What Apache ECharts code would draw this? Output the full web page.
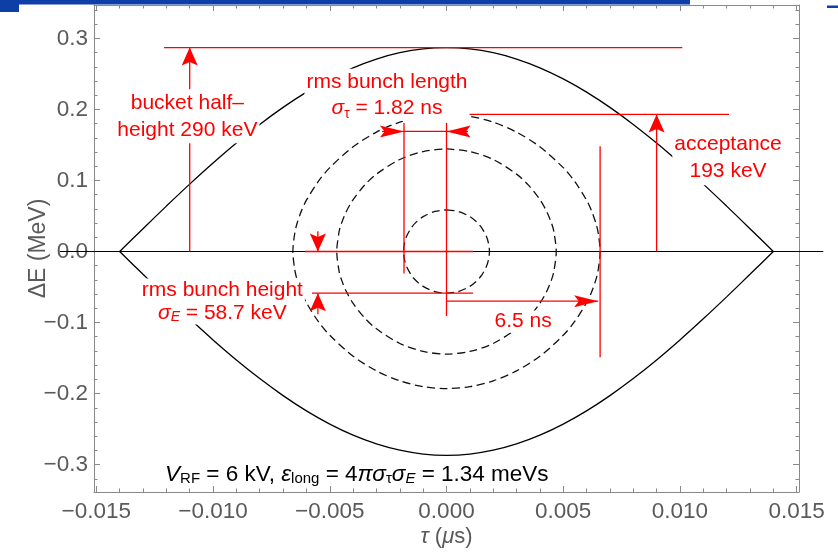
<!DOCTYPE html>
<html><head><meta charset="utf-8">
<script src="https://cdn.jsdelivr.net/npm/echarts@6/dist/echarts.min.js"></script>
<style>html,body{margin:0;padding:0;background:#fff}#c{width:838px;height:553px}</style>
</head><body><div id="c"></div>
<script>
// ---- ticks ----
const xMajorTicks = [-0.015, -0.01, -0.005, 0, 0.005, 0.01, 0.015];
const xMinorTicks = [-0.014,-0.013,-0.012,-0.011,-0.009,-0.008,-0.007,-0.006,-0.004,-0.003,-0.002,-0.001,
                     0.001,0.002,0.003,0.004,0.006,0.007,0.008,0.009,0.011,0.012,0.013,0.014];
const yMajorTicks = [-0.3, -0.2, -0.1, 0, 0.1, 0.2, 0.3];
const yMinorTicks = [-0.32,-0.28,-0.26,-0.24,-0.22,-0.18,-0.16,-0.14,-0.12,-0.08,-0.06,-0.04,-0.02,
                     0.02,0.04,0.06,0.08,0.12,0.14,0.16,0.18,0.22,0.24,0.26,0.28,0.32,0.34];

// ---- separatrix (tau in us, dE in MeV) ----
const tauSep = [-0.014,-0.013,-0.012,-0.011,-0.010,-0.009,-0.008,-0.007,-0.006,-0.005,-0.004,-0.003,-0.002,-0.001,0,
                0.001,0.002,0.003,0.004,0.005,0.006,0.007,0.008,0.009,0.010,0.011,0.012,0.013,0.014];
const sepUpper = [0,0.0321,0.0639,0.0948,0.1245,0.1527,0.1789,0.2029,0.2244,0.2430,0.2586,0.2709,0.2798,0.2852,0.287,
                  0.2852,0.2798,0.2709,0.2586,0.2430,0.2244,0.2029,0.1789,0.1527,0.1245,0.0948,0.0639,0.0321,0];
const sepLower = [0,-0.0321,-0.0639,-0.0948,-0.1245,-0.1527,-0.1789,-0.2029,-0.2244,-0.2430,-0.2586,-0.2709,-0.2798,-0.2852,-0.287,
                  -0.2852,-0.2798,-0.2709,-0.2586,-0.2430,-0.2244,-0.2029,-0.1789,-0.1527,-0.1245,-0.0948,-0.0639,-0.0321,0];

// ---- zero line (extends past the frame) ----
const zeroLineSegment = [[-0.01656, 0, 0.01614, 0]];

// ---- dashed contours (closed loops) ----
const tauOuter = [0,0.001,0.002,0.003,0.004,0.005,0.0055,0.006,0.0062,0.0064,0.0065,0.00658,
                  0.0065,0.0064,0.0062,0.006,0.0055,0.005,0.004,0.003,0.002,0.001,0,
                  -0.001,-0.002,-0.003,-0.004,-0.005,-0.0055,-0.006,-0.0062,-0.0064,-0.0065,-0.00658,
                  -0.0065,-0.0064,-0.0062,-0.006,-0.0055,-0.005,-0.004,-0.003,-0.002,-0.001,0];
const dEOuter = [0.193,0.1903,0.1821,0.1681,0.1474,0.118,0.0982,0.0722,0.0583,0.0397,0.0257,0,
                 -0.0257,-0.0397,-0.0583,-0.0722,-0.0982,-0.118,-0.1474,-0.1681,-0.1821,-0.1903,-0.193,
                 -0.1903,-0.1821,-0.1681,-0.1474,-0.118,-0.0982,-0.0722,-0.0583,-0.0397,-0.0257,0,
                 0.0257,0.0397,0.0583,0.0722,0.0982,0.118,0.1474,0.1681,0.1821,0.1903,0.193];
const tauMiddle = [0,0.001,0.002,0.003,0.0035,0.004,0.0043,0.0045,0.0046,0.0047,
                   0.0046,0.0045,0.0043,0.004,0.0035,0.003,0.002,0.001,0,
                   -0.001,-0.002,-0.003,-0.0035,-0.004,-0.0043,-0.0045,-0.0046,-0.0047,
                   -0.0046,-0.0045,-0.0043,-0.004,-0.0035,-0.003,-0.002,-0.001,0];
const dEMiddle = [0.1444,0.1407,0.1295,0.1089,0.0937,0.073,0.0557,0.0396,0.028,0,
                  -0.028,-0.0396,-0.0557,-0.073,-0.0937,-0.1089,-0.1295,-0.1407,-0.1444,
                  -0.1407,-0.1295,-0.1089,-0.0937,-0.073,-0.0557,-0.0396,-0.028,0,
                  0.028,0.0396,0.0557,0.073,0.0937,0.1089,0.1295,0.1407,0.1444];
const tauInner = [0,0.0005,0.001,0.0013,0.0015,0.0017,0.0018,0.00184,
                  0.0018,0.0017,0.0015,0.0013,0.001,0.0005,0,
                  -0.0005,-0.001,-0.0013,-0.0015,-0.0017,-0.0018,-0.00184,
                  -0.0018,-0.0017,-0.0015,-0.0013,-0.001,-0.0005,0];
const dEInner = [0.0587,0.0564,0.0491,0.0413,0.0337,0.022,0.0114,0,
                 -0.0114,-0.022,-0.0337,-0.0413,-0.0491,-0.0564,-0.0587,
                 -0.0564,-0.0491,-0.0413,-0.0337,-0.022,-0.0114,0,
                 0.0114,0.022,0.0337,0.0413,0.0491,0.0564,0.0587];

// ---- red annotation segments: [tau1, dE1, tau2, dE2, arrowheadAtEnd] ----
const annotationSegments = [
  [-0.0121, 0.287, 0.0101, 0.287, 0],
  [-0.011, 0, -0.011, 0.287, 1],
  [-0.00182, 0.181, -0.00182, -0.031, 0],
  [0, 0.181, 0, -0.091, 0],
  [-0.00182, 0.169, 0, 0.169, 0],
  [-0.00276, 0.169, -0.00182, 0.169, 1],
  [0.00092, 0.169, 0, 0.169, 1],
  [-0.0007, 0.193, 0.0121, 0.193, 0],
  [0.009, 0, 0.009, 0.193, 1],
  [0.00658, 0.148, 0.00658, -0.149, 0],
  [0, -0.07, 0.0065, -0.07, 1],
  [-0.00606, 0, 0.00114, 0, 0],
  [-0.00576, -0.0587, 0.00114, -0.0587, 0],
  [-0.00551, 0.0285, -0.00551, 0, 1],
  [-0.00551, -0.0885, -0.00551, -0.0587, 1]
];

// ---- annotation texts (anchor in data coords) ----
const annotationTexts = [
  { at: [-0.0111, 0.1904], text: 'bucket half–\nheight 290 keV', color: 'red', lh: 27, fs: 21 },
  { at: [-0.00255, 0.2206], text: 'rms bunch length\n{i|σ}{sub|τ} = 1.82 ns', color: 'red', lh: 26, fs: 21 },
  { at: [0.01206, 0.1314], text: 'acceptance\n193 keV', color: 'red', lh: 27, fs: 21 },
  { at: [-0.0096, -0.0703], text: 'rms bunch height\n{i|σ}{subi|E} = 58.7 keV', color: 'red', lh: 23, fs: 21 },
  { at: [0.00328, -0.0984], text: '6.5 ns', color: 'red', lh: 22, fs: 21 },
  { at: [-0.00384, -0.3145], text: '{i|V}{sub|RF} = 6 kV, {i|ε}{sub|long} = 4{i|πσ}{sub|τ}{i|σ}{subi|E} = 1.34 meVs', color: '#000', lh: 22, fs: 22.5 }
];

const zip = (a, b) => a.map((v, i) => [v, b[i]]);
const RED = '#ff0000';
const FRAME = '#8a8a8a';
const LABEL = '#5a5a5a';
const FONT = 'Liberation Sans, Arial, sans-serif';

const chart = echarts.init(document.getElementById('c'));

const xRange = { min: -0.0151, max: 0.0151 };
const yRange = { min: -0.3386, max: 0.347 };

function xAxisDef(position, ticks, len, major) {
  return {
    type: 'value', position, ...xRange,
    axisLine: { show: major, onZero: false, lineStyle: { color: FRAME, width: 1 } },
    axisTick: { show: true, inside: true, length: len, customValues: ticks, lineStyle: { color: FRAME } },
    axisLabel: { show: false },
    splitLine: { show: false }
  };
}
function yAxisDef(position, ticks, len, major) {
  return {
    type: 'value', position, ...yRange,
    axisLine: { show: major, onZero: false, lineStyle: { color: FRAME, width: 1 } },
    axisTick: { show: true, inside: true, length: len, customValues: ticks, lineStyle: { color: FRAME } },
    axisLabel: { show: false },
    splitLine: { show: false }
  };
}

const xMain = xAxisDef('bottom', xMajorTicks, 6, true);
xMain.axisLabel = {
  show: true, customValues: xMajorTicks, margin: 8, color: LABEL, fontSize: 22.5, fontFamily: FONT,
  formatter: v => (v < 0 ? '−' : '') + Math.abs(v).toFixed(3)
};
xMain.name = '{i|τ} ({i|μ}s)';
xMain.nameLocation = 'middle';
xMain.nameGap = 34;
xMain.nameMoveOverlap = false;
xMain.nameTextStyle = { color: LABEL, fontSize: 22, fontFamily: FONT, rich: { i: { fontStyle: 'italic', color: LABEL, fontSize: 22, fontFamily: FONT } } };

const yMain = yAxisDef('left', yMajorTicks, 6, true);
yMain.axisLabel = {
  show: true, customValues: yMajorTicks, margin: 6, color: LABEL, fontSize: 22.5, fontFamily: FONT,
  formatter: v => (v < 0 ? '−' : '') + Math.abs(v).toFixed(1)
};
yMain.name = 'ΔE (MeV)';
yMain.nameLocation = 'middle';
yMain.nameGap = 44;
yMain.nameMoveOverlap = false;
yMain.nameTextStyle = { color: LABEL, fontSize: 23, fontFamily: FONT };

const blackLine = { color: '#000', width: 1.3 };
const dashed = { color: '#111', width: 1.3, type: [8, 4.5] };

function arrowSegmentRenderer(color, width) {
  return (params, api) => {
    const p1 = api.coord([api.value(0), api.value(1)]);
    const p2 = api.coord([api.value(2), api.value(3)]);
    const children = [{ type: 'line', shape: { x1: p1[0], y1: p1[1], x2: p2[0], y2: p2[1] }, style: { stroke: color, lineWidth: width } }];
    if (api.value(4)) {
      const S = 1.34, L = 18, W = 6, N = 3.5;
      let ux = (p2[0] - p1[0]) / S, uy = p2[1] - p1[1];
      const m = Math.hypot(ux, uy) || 1; ux /= m; uy /= m;
      const nx = -uy, ny = ux;
      const off = (ox, oy) => [p2[0] + ox * S, p2[1] + oy];
      const pts = [
        off(0, 0),
        off(-L * ux + W * nx, -L * uy + W * ny),
        off(-(L - N) * ux, -(L - N) * uy),
        off(-L * ux - W * nx, -L * uy - W * ny)
      ];
      children.push({ type: 'polygon', shape: { points: pts }, style: { fill: color } });
    }
    return { type: 'group', children };
  };
}

chart.setOption({
  animation: false,
  grid: { left: 94, right: 39, top: 5, bottom: 60, containLabel: false },
  xAxis: [xMain, xAxisDef('bottom', xMinorTicks, 3.5, false), xAxisDef('top', xMajorTicks, 6, true), xAxisDef('top', xMinorTicks, 3.5, false)],
  yAxis: [yMain, yAxisDef('left', yMinorTicks, 3.5, false), yAxisDef('right', yMajorTicks, 6, true), yAxisDef('right', yMinorTicks, 3.5, false)],
  series: [
    { type: 'custom', data: zeroLineSegment, z: 2, clip: false, encode: { x: [0, 2], y: [1, 3] },
      renderItem: arrowSegmentRenderer('#000', 1.2) },
    { type: 'line', data: zip(tauSep, sepUpper), symbol: 'none', smooth: 0.3, lineStyle: blackLine, z: 2 },
    { type: 'line', data: zip(tauSep, sepLower), symbol: 'none', smooth: 0.3, lineStyle: blackLine, z: 2 },
    { type: 'line', data: zip(tauOuter, dEOuter), symbol: 'none', smooth: 0.3, lineStyle: dashed, z: 2 },
    { type: 'line', data: zip(tauMiddle, dEMiddle), symbol: 'none', smooth: 0.3, lineStyle: dashed, z: 2 },
    { type: 'line', data: zip(tauInner, dEInner), symbol: 'none', smooth: 0.3, lineStyle: dashed, z: 2 },
    { type: 'custom', data: annotationSegments, z: 5, clip: false, encode: { x: [0, 2], y: [1, 3] },
      renderItem: arrowSegmentRenderer(RED, 1.3) }
  ]
});

function richFor(color, fs) {
  const base = { fill: color, fontSize: fs, fontFamily: FONT };
  const sfs = Math.round(fs * 0.68);
  return {
    i: { ...base, fontStyle: 'italic' },
    sub: { ...base, fontSize: sfs, verticalAlign: 'bottom', lineHeight: 16 },
    subi: { ...base, fontSize: sfs, fontStyle: 'italic', verticalAlign: 'bottom', lineHeight: 16 }
  };
}

const graphics = annotationTexts.map(t => {
  const p = chart.convertToPixel({ seriesIndex: 1 }, t.at);
  return {
    type: 'text', x: p[0], y: p[1], z: 100,
    style: {
      text: t.text, fill: t.color, fontSize: t.fs, fontFamily: FONT, lineHeight: t.lh,
      align: 'center', verticalAlign: 'middle',
      backgroundColor: '#fff', padding: [0, 2],
      rich: richFor(t.color, t.fs)
    }
  };
});
// slide header remnants along the top edge
graphics.push(
  { type: 'rect', z: 100, shape: { x: 0, y: 0, width: 690, height: 4.5 }, style: { fill: '#0d3fa6' } },
  { type: 'rect', z: 100, shape: { x: 0, y: 0, width: 19, height: 12 }, style: { fill: '#0d3fa6' } },
  { type: 'rect', z: 100, shape: { x: 827, y: 5.5, width: 11, height: 2.5 }, style: { fill: '#0d3fa6' } }
);
chart.setOption({ graphic: graphics });
</script></body></html>
